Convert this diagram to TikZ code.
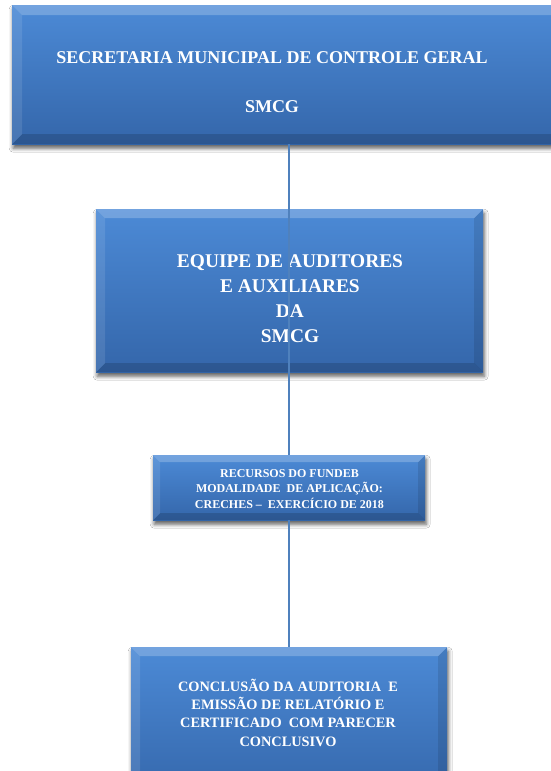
\documentclass[tikz,border=0pt]{standalone}
\usepackage{fontspec}
\setmainfont{Liberation Serif}
\usetikzlibrary{shadows.blur}
\definecolor{boxtop}{RGB}{76,138,214}
\definecolor{boxbot}{RGB}{52,102,170}
\definecolor{linecol}{RGB}{79,129,189}
\tikzset{
  bevel/.store in=\bev, bevel=9pt,
  bevelbox/.style={draw=none, top color=boxtop, bottom color=boxbot, inner sep=0pt, anchor=north west,
    blur shadow={shadow xshift=1pt, shadow yshift=-4pt, shadow blur radius=4pt, shadow opacity=65},
    path picture={
      \path (path picture bounding box.north west) coordinate (pNW)
            (path picture bounding box.north east) coordinate (pNE)
            (path picture bounding box.south west) coordinate (pSW)
            (path picture bounding box.south east) coordinate (pSE);
      \fill[white,opacity=0.22] (pNW) -- (pNE) -- ([xshift=-\bev,yshift=-\bev]pNE) -- ([xshift=\bev,yshift=-\bev]pNW) -- cycle;
      \fill[white,opacity=0.10] (pNW) -- ([xshift=\bev,yshift=-\bev]pNW) -- ([xshift=\bev,yshift=\bev]pSW) -- (pSW) -- cycle;
      \fill[black,opacity=0.10] (pNE) -- ([xshift=-\bev,yshift=-\bev]pNE) -- ([xshift=-\bev,yshift=\bev]pSE) -- (pSE) -- cycle;
      \fill[black,opacity=0.15] (pSW) -- ([xshift=\bev,yshift=\bev]pSW) -- ([xshift=-\bev,yshift=\bev]pSE) -- (pSE) -- cycle;
    }},
  boxtext/.style={text=white, align=center, anchor=base, inner sep=0pt},
  conn/.style={draw=linecol, line width=1.5pt}
}
\begin{document}
\begin{tikzpicture}[x=1pt,y=-1pt]
\path[use as bounding box, clip] (0,0) rectangle (551,771);
\fill[white] (0,0) rectangle (551,771);
% box 1
\node[bevelbox, bevel=10pt, minimum width=558pt, minimum height=139pt] (b1) at (12,5) {};
\node[boxtext, font=\fontsize{18}{49}\selectfont\bfseries] (t1) at (272,112)
  {SECRETARIA MUNICIPAL DE CONTROLE GERAL\\SMCG};
% box 2
\node[bevelbox, minimum width=387pt, minimum height=163pt] (b2) at (96,209) {};
\node[boxtext, font=\fontsize{19.4}{25}\selectfont\bfseries] (t2) at (290,342)
  {EQUIPE DE AUDITORES\\E AUXILIARES\\DA\\SMCG};
% box 3
\node[bevelbox, bevel=7pt, minimum width=272pt, minimum height=65pt] (b3) at (153,455) {};
\node[boxtext, font=\fontsize{12}{15.5}\selectfont\bfseries] (t3) at (289.5,508)
  {RECURSOS DO FUNDEB\\MODALIDADE~ DE APLICAÇÃO:\\CRECHES –~ EXERCÍCIO DE 2018};
\draw[conn] (b3.north |- b1.south) -- (b3.north);
% box 4
\node[bevelbox, minimum width=316pt, minimum height=153pt] (b4) at (131,647) {};
\node[boxtext, font=\fontsize{14.35}{18.3}\selectfont\bfseries] (t4) at (288,746)
  {CONCLUSÃO DA AUDITORIA~ E\\EMISSÃO DE RELATÓRIO E\\CERTIFICADO~ COM PARECER\\CONCLUSIVO};
\draw[conn] (b3.south) -- (b3.south |- b4.north);
\end{tikzpicture}
\end{document}
